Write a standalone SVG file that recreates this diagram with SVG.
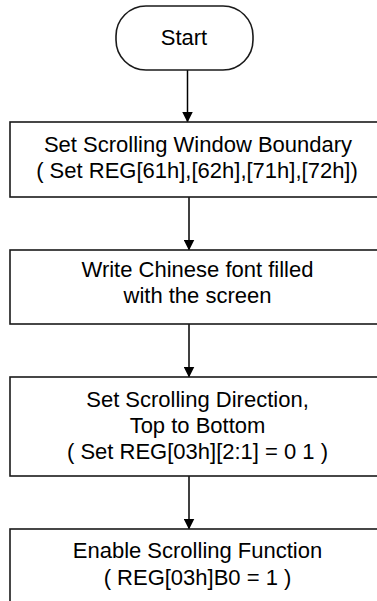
<svg xmlns="http://www.w3.org/2000/svg" width="377" height="601" viewBox="0 0 377 601">
<style>
.box{fill:#fff;stroke:#1a1a1a;stroke-width:1.6}
.t{font-family:"Liberation Sans",Arial,sans-serif;font-size:22px;fill:#000;text-anchor:middle}
.c{stroke:#000;stroke-width:1.5;fill:none}
</style>
<defs>
<marker id="ah" markerWidth="11" markerHeight="11" refX="10.5" refY="5.5" orient="auto" markerUnits="userSpaceOnUse">
<path d="M0,0 L11,5.5 L0,11 Z" fill="#000"/>
</marker>
</defs>
<rect width="377" height="601" fill="#fff"/>
<g id="connectors">
<line class="c" x1="187.5" y1="70" x2="187.5" y2="122" marker-end="url(#ah)"/>
<line class="c" x1="189" y1="197" x2="189" y2="250" marker-end="url(#ah)"/>
<line class="c" x1="189" y1="324" x2="189" y2="377" marker-end="url(#ah)"/>
<line class="c" x1="189" y1="476" x2="189" y2="529" marker-end="url(#ah)"/>
</g>
<g id="start">
<rect class="box" x="116" y="6" width="137" height="64" rx="30" ry="30"/>
<text class="t" x="184" y="45">Start</text>
</g>
<g id="boundary">
<rect class="box" x="10" y="122" width="375" height="75"/>
<text class="t" x="198" y="152">Set Scrolling Window Boundary</text>
<text class="t" x="197" y="178">( Set REG[61h],[62h],[71h],[72h])</text>
</g>
<g id="write">
<rect class="box" x="10" y="250" width="375" height="74"/>
<text class="t" x="197.5" y="277">Write Chinese font filled</text>
<text class="t" x="197.5" y="303">with the screen</text>
</g>
<g id="direction">
<rect class="box" x="10" y="377" width="375" height="99"/>
<text class="t" x="197.5" y="407">Set Scrolling Direction,</text>
<text class="t" x="197.5" y="433">Top to Bottom</text>
<text class="t" x="197.5" y="459">( Set REG[03h][2:1] = 0 1 )</text>
</g>
<g id="enable">
<rect class="box" x="10" y="529" width="375" height="100"/>
<text class="t" x="197.5" y="558">Enable Scrolling Function</text>
<text class="t" x="197.5" y="585">( REG[03h]B0 = 1 )</text>
</g>
</svg>
